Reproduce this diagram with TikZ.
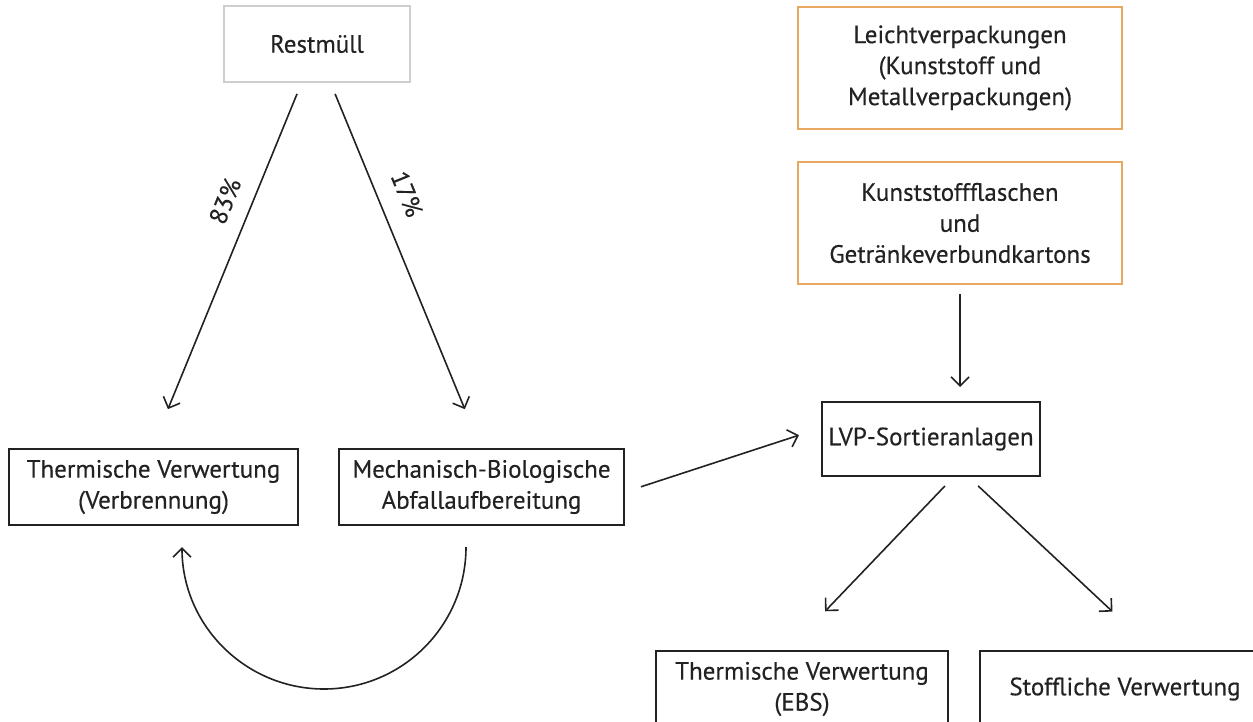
\documentclass[tikz,border=0pt]{standalone}
\usepackage{fontspec}
\setmainfont{PT Sans}[FakeBold=0.35]
\usetikzlibrary{arrows.meta,positioning}
\definecolor{inkgrey}{RGB}{35,33,34}
\definecolor{framegrey}{RGB}{206,206,206}
\definecolor{packorange}{RGB}{233,168,98}
\tikzset{
  stage/.style={draw=inkgrey,line width=1pt,align=center,text=inkgrey,
    font=\fontsize{12.5}{15.5}\selectfont,inner sep=2pt,minimum height=38pt},
  sourcebox/.style={stage,draw=framegrey},
  packbox/.style={stage,draw=packorange,minimum width=162pt,minimum height=61pt},
  flow/.style={-{Straight Barb[length=4.5pt,width=9pt]},line width=0.8pt,draw=inkgrey},
  share/.style={font=\fontsize{12.5}{15}\selectfont,text=inkgrey,inner sep=1pt}
}

\begin{document}
\begin{tikzpicture}[x=0.5pt,y=-0.5pt]
  \clip (0,0) rectangle (1253,722);
  % residual waste side
  \node[sourcebox,minimum width=93pt] (rest) at (317,44) {Restmüll};
  \node[stage,minimum width=144.5pt] (therm) at (153.5,487)
    {Thermische Verwertung\\(Verbrennung)};
  \node[stage,minimum width=142.5pt,right=19.5pt of therm] (mba)
    {Mechanisch-Biologische\\Abfallaufbereitung};
  \node[share,rotate=68] (p83) at (225,201) {83\%};
  \node[share,rotate=-68] (p17) at (407,194) {17\%};
  % packaging side
  \node[packbox] (lvpack) at (960,68)
    {Leichtverpackungen\\(Kunststoff und\\Metallverpackungen)};
  \node[packbox,below=15.5pt of lvpack] (bottles)
    {Kunststoffflaschen\\und\\Getränkeverbundkartons};
  \node[stage,minimum width=109pt,minimum height=37pt] (lvp) at (931,439)
    {LVP-Sortieranlagen};
  \node[stage,minimum width=146pt] (ebs) at (802,689)
    {Thermische Verwertung\\(EBS)};
  \node[stage,minimum width=145pt,right=15pt of ebs] (stoff)
    {Stoffliche Verwertung};
  % connectors
  \draw[flow,shorten <=5.9pt,shorten >=21pt]
    ([xshift=-7.75pt]rest.south) -- ([xshift=-0.75pt]therm.north);
  \draw[flow,shorten <=5.9pt,shorten >=21pt]
    ([xshift=6.8pt]rest.south) -- ([xshift=-0.35pt]mba.north);
  \draw[flow] ([xshift=-7.75pt,yshift=-10.5pt]mba.south)
    arc[start angle=0,end angle=-180,radius=71pt];
  \draw[flow,shorten <=8.4pt,shorten >=11.6pt]
    ([yshift=-2.5pt]mba.east) -- ([yshift=5.5pt]lvp.west);
  \draw[flow,shorten <=4.5pt,shorten >=7pt]
    (bottles.south) -- ([xshift=14.5pt]lvp.north);
  \draw[flow,shorten <=6.2pt,shorten >=26.8pt]
    ([xshift=11.25pt]lvp.south) -- ([xshift=-7pt]ebs.north);
  \draw[flow,shorten <=6.5pt,shorten >=28.1pt]
    ([xshift=18.8pt]lvp.south) -- ([xshift=14.25pt]stoff.north);
\end{tikzpicture}
\end{document}
